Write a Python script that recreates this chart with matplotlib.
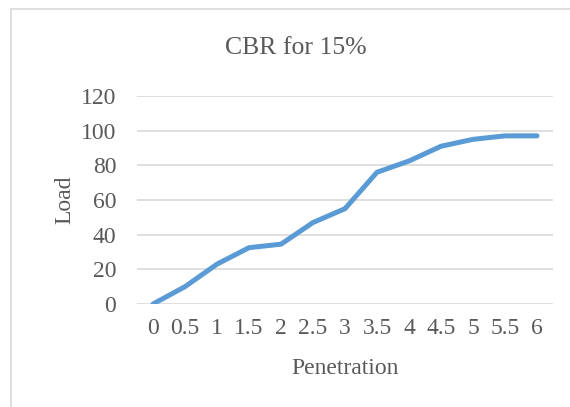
import matplotlib
matplotlib.use("Agg")
import matplotlib.pyplot as plt
from matplotlib.patches import Rectangle

penetration = ["0", "0.5", "1", "1.5", "2", "2.5", "3", "3.5", "4", "4.5", "5", "5.5", "6"]
load = [0, 10, 23, 32.5, 34.5, 47, 55, 76, 82.5, 91, 95, 97, 97]
yticks = [0, 20, 40, 60, 80, 100, 120]

plt.rcParams['font.family'] = ['Liberation Serif', 'DejaVu Serif']
gray = '#595959'

fig = plt.figure(figsize=(5.70, 4.07), dpi=100)
fig.patches.append(Rectangle((11/570, -0.01), 1.0, 1 - 9/407 + 0.01, transform=fig.transFigure,
                             fill=False, edgecolor='#D9D9D9', linewidth=1.2))
ax = fig.add_axes([137/570, 1 - 304/407, 416/570, 208/407])
x = list(range(len(penetration)))
ax.plot(x, load, color='#5B9BD5', linewidth=3.6, solid_capstyle='round', solid_joinstyle='round')
ax.set_xlim(-0.5, len(penetration) - 0.5)
ax.set_ylim(0, 120)
ax.set_xticks(x)
ax.set_xticklabels(penetration)
ax.set_yticks(yticks)
for s in ax.spines.values():
    s.set_visible(False)
ax.grid(axis='y', color='#D9D9D9', linewidth=1.2)
ax.set_axisbelow(True)
ax.tick_params(axis='both', length=0, labelsize=17, colors=gray)
ax.tick_params(axis='x', pad=10)
ax.tick_params(axis='y', pad=15)
ax.set_xlabel("Penetration", fontsize=17, color=gray, labelpad=14)
ax.set_ylabel("Load", fontsize=17, color=gray, labelpad=4)
fig.text(296/570, 1 - 48/407, "CBR for 15%", ha='center', va='center', fontsize=18.5, color=gray)
fig.savefig("out.png", dpi=100)
